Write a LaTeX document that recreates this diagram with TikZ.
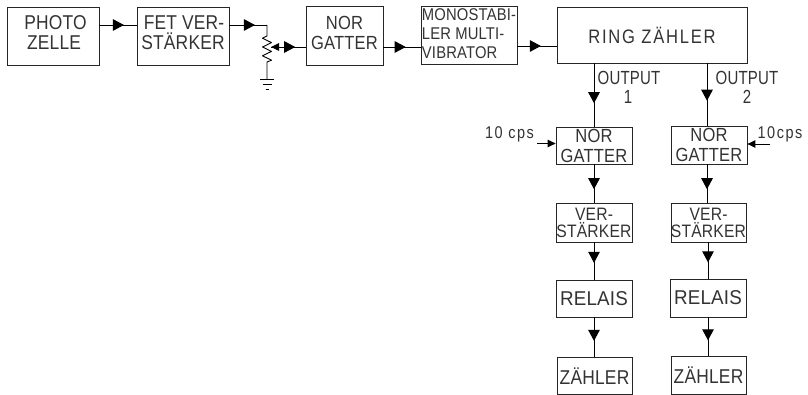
\documentclass[tikz,border=0pt]{standalone}
\usepackage{fontspec}
\newfontfamily\fa[FakeStretch=0.79,LetterSpace=1]{Liberation Sans}
\newfontfamily\fb[FakeStretch=0.87,LetterSpace=1]{Liberation Sans}
\newfontfamily\fc[FakeStretch=0.94,LetterSpace=1]{Liberation Sans}
\newfontfamily\fs[FakeStretch=0.85,LetterSpace=9]{Liberation Sans}
\newcommand{\up}[1]{\rule[-#1pt]{0pt}{#1pt}}
\usetikzlibrary{arrows.meta,decorations.markings}
\tikzset{
 x=1pt,y=-1pt,
 blk/.style={draw=black!85,line width=0.8pt,inner sep=0pt,align=center,text=black!80,font=\fb\fontsize{20}{20}\selectfont},
 gate/.style={font=\fb\fontsize{19}{20}\selectfont},
 amp/.style={font=\fb\fontsize{18}{17}\selectfont},
 lab/.style={inner sep=0pt,align=center,text=black!80,font=\fa\fontsize{19}{20}\selectfont},
 cps/.style={inner sep=0pt,text=black!80,font=\fs\fontsize{17}{20}\selectfont},
 wire/.style={draw=black,line width=0.9pt},
 flow/.style={wire,postaction={decorate},decoration={markings,mark=at position #1 with {\arrow{Triangle[length=11pt,width=11.5pt]}}}},
 small/.style={wire,-{Triangle[length=8pt,width=7.5pt]}},
}
\newcommand{\blkat}[6]{\node[blk,minimum width=#4-#3,minimum height=#6-#5,#1] at ({(#3+#4)/2},{(#5+#6)/2}) {#2};}
\begin{document}
\begin{tikzpicture}
\useasboundingbox (0,0) rectangle (808,395);
\blkat{name=photo}{\hspace*{5pt}PHOTO\\\hspace*{2pt}ZELLE\up{6}}{7}{99}{7}{65}
\blkat{name=fet}{\hspace*{2pt}FET VER-\\STÄRKER\up{6}}{137}{229}{7}{65}
\blkat{name=norm,gate}{NOR\\GATTER\up{6}}{306}{383}{6}{65}
\blkat{name=mono,align=left,font=\fb\fontsize{17}{19}\selectfont}{MONOSTABI-\\LER MULTI-\\VIBRATOR\up{2}}{421}{517}{6}{64}
\blkat{name=ring,font=\fs\fontsize{19.5}{20}\selectfont}{RING ZÄHLER}{557}{747}{7}{63}
\blkat{name=norA,gate}{NOR\\GATTER}{556}{632}{127}{164}
\blkat{name=norB,gate}{NOR\\GATTER}{671}{747}{126}{164}
\blkat{name=verA,amp}{VER-\\STÄRKER}{556}{632}{203}{242}
\blkat{name=verB,amp}{VER-\\STÄRKER}{671}{746}{203}{242}
\blkat{name=relA,font=\fc\fontsize{20}{20}\selectfont}{RELAIS}{556}{632}{280}{317}
\blkat{name=relB,font=\fc\fontsize{20}{20}\selectfont}{RELAIS}{670}{746}{279}{317}
\blkat{name=zahA}{ZÄHLER}{557}{632}{357}{394.5}
\blkat{name=zahB}{ZÄHLER}{671}{746}{356}{394.5}
% main row
\draw[flow=0.66] (photo.east |- 0,25) -- (fet.west |- 0,25);
\coordinate (pottop) at (267,25);
\coordinate (potupper) at (267,36);
\coordinate (potlower) at (267,62);
\coordinate (gnd) at (267,79);
\coordinate (wiper) at (271,47);
\draw[flow=0.68] (fet.east |- 0,25) -- (pottop);
\draw[wire,line join=round] (pottop) -- (potupper) -- ++(-4.5,2.2) -- ++(9,4.4) -- ++(-9,4.4) -- ++(9,4.4) -- ++(-9,4.4) -- ++(9,4.4) -- (potlower) -- (gnd);
\draw[wire] (260,79) -- (274,79) (262.5,84) -- (271.5,84) (265.5,89) -- (268.5,89);
\draw[small] (wiper -| norm.west) -- (wiper);
\draw[flow=0.7] (wiper) -- (norm.west |- wiper);
\draw[flow=0.6] (norm.east |- 0,47) -- (mono.west |- 0,47);
\draw[flow=0.6] (mono.east |- 0,46) -- (ring.west |- 0,46);
% outputs
\draw[flow=0.63] (ring.south -| 594,0) -- (norA.north -| 594,0);
\draw[flow=0.6] (ring.south -| 707,0) -- (norB.north -| 707,0);
\node[lab] (outA) at (629,78) {OUTPUT};
\node[lab] (outB) at (747,78) {OUTPUT};
\node[lab] (numA) at (628,97) {1};
\node[lab] (numB) at (747,97) {2};
% 10 cps
\node[cps] (cpsA) at (509.5,134) {10 cps};
\node[cps] (cpsB) at (780,134) {10cps};
\coordinate (inA) at (537,143.5);
\coordinate (inB) at (770,144);
\draw[small] (inA) -- (norA.west |- inA);
\draw[small] (inB) -- (norB.east |- inB);
% columns
\draw[flow=0.65] (norA.south -| 594,0) -- (verA.north -| 594,0);
\draw[flow=0.65] (norB.south -| 707,0) -- (verB.north -| 707,0);
\draw[flow=0.55] (verA.south -| 594,0) -- (relA.north -| 594,0);
\draw[flow=0.55] (verB.south -| 708,0) -- (relB.north -| 708,0);
\draw[flow=0.6] (relA.south -| 594,0) -- (zahA.north -| 594,0);
\draw[flow=0.6] (relB.south -| 708,0) -- (zahB.north -| 708,0);
\end{tikzpicture}
\end{document}
